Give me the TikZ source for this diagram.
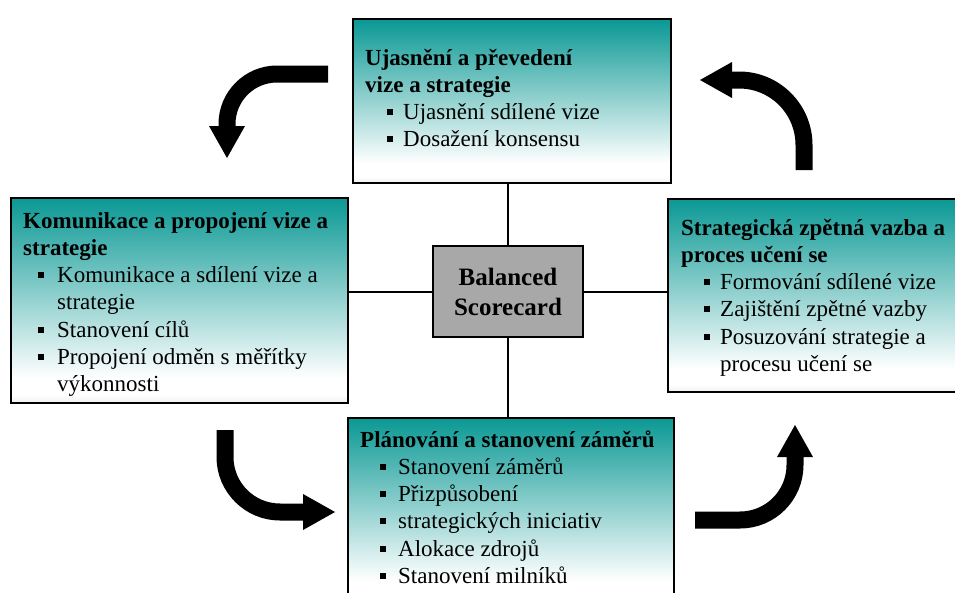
\documentclass[tikz,border=0pt]{standalone}
\usepackage{fontspec}
\setmainfont{Liberation Serif}
\usetikzlibrary{arrows.meta}

\definecolor{tealtop}{RGB}{10,152,148}
\definecolor{hubgray}{RGB}{168,168,168}

% teal at the top fading to white, with a faint grey rim at the very bottom
\pgfdeclareverticalshading{boxfade}{100bp}{%
  color(0bp)=(white!88!gray); color(25bp)=(white!88!gray);
  color(27bp)=(white); color(31bp)=(white);
  color(75bp)=(tealtop); color(100bp)=(tealtop)}

% square bullet and list lines: #1 bullet centre, #2 text start (pt from the title's left edge)
\newcommand{\bulsq}{\rule[4.5pt]{6pt}{6pt}}
\newcommand{\itm}[3]{\makebox[#2pt][l]{\hspace*{\dimexpr #1pt-3pt\relax}\bulsq}#3}
\newcommand{\cont}[2]{\hspace*{#1pt}#2}

\tikzset{
  panel/.style={draw=black, line width=2pt, shade, shading=boxfade, inner sep=0pt, anchor=north west},
  hubbox/.style={draw=black, line width=2pt, fill=hubgray, inner sep=0pt, align=center,
    font=\fontsize{25}{30}\selectfont\bfseries},
  paneltext/.style={inner sep=0pt, anchor=base west, font=\fontsize{23}{27.3}\selectfont},
  link/.style={draw=black, line width=2pt},
  bigarrow/.style={line width=17pt, line cap=butt,
    -{Triangle[length=32pt 0 0, width=36pt 0 0, line width=0pt]}}
}

\begin{document}
\begin{tikzpicture}[x=1pt, y=-1pt]
\clip (0,0) rectangle (955,592);
\fill[white] (0,0) rectangle (955,592);

% the four panels and the hub
\node[panel, minimum width=318pt, minimum height=164pt] (vision) at (352,18) {};
\node[panel, minimum width=337pt, minimum height=205pt] (comm) at (10,197) {};
\node[panel, minimum width=300pt, minimum height=193pt] (learn) at (667,198) {};
\node[panel, minimum width=326pt, minimum height=185pt] (plan) at (347,417) {};
\node[hubbox, minimum width=150pt, minimum height=91pt] (hub) at (508,291.5) {Balanced\\Scorecard};

% spokes from the hub to the panels
\draw[link] (hub.north) -- (hub.north |- vision.south);
\draw[link] (hub.south) -- (hub.south |- plan.north);
\draw[link] (hub.west) -- (hub.west -| comm.east);
\draw[link] (hub.east) -- (hub.east -| learn.west);

% panel texts
\node[paneltext] (visiontext) at (365,65) {\begin{tabular}[t]{@{}l@{}}
\textbf{Ujasnění a převedení}\\
\textbf{vize a strategie}\\
\itm{25}{38}{Ujasnění sdílené vize}\\
\itm{25}{38}{Dosažení konsensu}
\end{tabular}};

\node[paneltext] (commtext) at (23,228) {\begin{tabular}[t]{@{}l@{}}
\textbf{Komunikace a propojení vize a}\\
\textbf{strategie}\\
\itm{18}{34}{Komunikace a sdílení vize a}\\
\cont{34}{strategie}\\
\itm{18}{34}{Stanovení cílů}\\
\itm{18}{34}{Propojení odměn s měřítky}\\
\cont{34}{výkonnosti}
\end{tabular}};

\node[paneltext] (learntext) at (681,235) {\begin{tabular}[t]{@{}l@{}}
\textbf{Strategická zpětná vazba a}\\
\textbf{proces učení se}\\
\itm{26}{39}{Formování sdílené vize}\\
\itm{26}{39}{Zajištění zpětné vazby}\\
\itm{26}{39}{Posuzování strategie a}\\
\cont{39}{procesu učení se}
\end{tabular}};

\node[paneltext] (plantext) at (360,447) {\begin{tabular}[t]{@{}l@{}}
\textbf{Plánování a stanovení záměrů}\\
\itm{23}{38}{Stanovení záměrů}\\
\itm{23}{38}{Přizpůsobení}\\
\itm{23}{38}{strategických iniciativ}\\
\itm{23}{38}{Alokace zdrojů}\\
\itm{23}{38}{Stanovení milníků}
\end{tabular}};

% curved cycle arrows
\coordinate (a1s) at (328,74);
\coordinate (a1e) at (227,158);
\draw[bigarrow] (a1s) -- (277,74) arc[start angle=270, end angle=180, radius=50] -- (a1e);

\coordinate (a2s) at (225,430);
\coordinate (a2e) at (335,512);
\draw[bigarrow] (a2s) -- (225,457) arc[start angle=180, end angle=90, radius=55] -- (a2e);

\coordinate (a3s) at (695,520);
\coordinate (a3e) at (795,425);
\draw[bigarrow] (a3s) -- (740,520) arc[start angle=90, end angle=0, radius=55] -- (a3e);

\coordinate (a4s) at (804,170);
\coordinate (a4e) at (700,80);
\draw[bigarrow] (a4s) -- (804,145) arc[start angle=0, end angle=-90, radius=65] -- (a4e);
\end{tikzpicture}
\end{document}
